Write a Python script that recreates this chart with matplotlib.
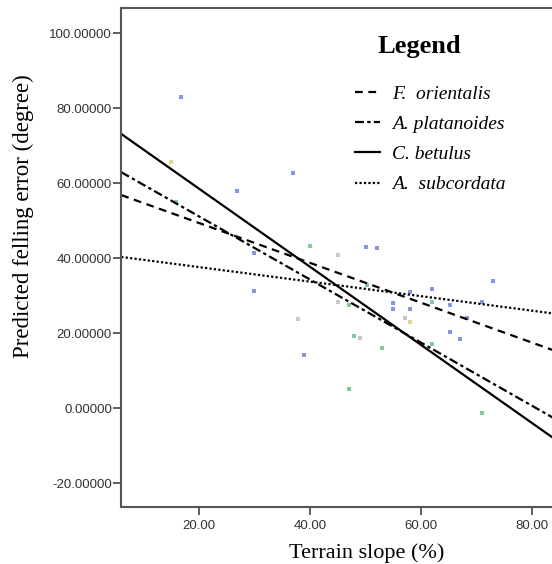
"""
Predicted felling error vs. terrain slope, one fitted line per species.
"""

import matplotlib
matplotlib.use("Agg")
import matplotlib.pyplot as plt

# ── Data ──────────────────────────────────────────────────────────────────────

SPECIES = ["F.  orientalis", "A. platanoides", "C. betulus", "A.  subcordata"]
LINE_X = [6.0, 85.0]
LINE_Y = {
    "F.  orientalis": [56.8, 14.8],
    "A. platanoides": [62.9, -3.6],
    "C. betulus": [73.1, -9.2],
    "A.  subcordata": [40.3, 25.0],
}

blue_x = [16.8, 26.8, 29.9, 29.9, 36.9, 50.1, 52.0, 38.9, 55.0, 55.0, 58.0,
          58.0, 62.0, 65.2, 65.2, 67.0, 68.3, 71.0, 73.0]
blue_y = [82.9, 57.9, 41.3, 31.2, 62.7, 43.0, 42.7, 14.1, 28.0, 26.4, 30.9,
          26.4, 31.7, 27.5, 20.3, 18.4, 24.0, 28.3, 33.9]
green_x = [15.9, 40.0, 47.0, 47.0, 47.9, 50.3, 53.0, 62.0, 62.0, 71.0]
green_y = [55.0, 43.2, 27.5, 5.1, 19.2, 32.8, 16.0, 28.3, 17.1, -1.3]
gray_x = [45.0, 37.8, 45.0, 49.0, 57.1]
gray_y = [40.8, 23.7, 28.3, 18.7, 24.0]
yellow_x = [15.0, 58.0]
yellow_y = [65.6, 22.9]

Y_TICKS = [-20, 0, 20, 40, 60, 80, 100]
X_TICKS = [20, 40, 60, 80]

# ── Styles ────────────────────────────────────────────────────────────────────

LINE_STYLE = {
    "F.  orientalis": (0, (3.5, 2.5)),
    "A. platanoides": (0, (4, 1.5, 1.5, 1.5)),
    "C. betulus": "-",
    "A.  subcordata": (0, (1, 1)),
}

SERIF = "Liberation Serif"
SANS = "Liberation Sans"
W, H = 552, 564

fig = plt.figure(figsize=(W / 100, H / 100), dpi=100)
ax = fig.add_axes([121 / W, 57 / H, 439 / W, 499 / H])

for x, y, c in [
    (blue_x, blue_y, "#8796e0"),
    (green_x, green_y, "#7fcb99"),
    (gray_x, gray_y, "#c8c8c8"),
    (yellow_x, yellow_y, "#e0d597"),
]:
    ax.scatter(x, y, s=5, marker="s", color=c, linewidths=0, zorder=1)

for sp in SPECIES:
    ax.plot(LINE_X, LINE_Y[sp], color="black", lw=1.6,
            linestyle=LINE_STYLE[sp], label=sp, zorder=2)

ax.set_xlim(5.95, 85.05)
ax.set_ylim(-26.4, 106.7)
ax.set_xticks(X_TICKS)
ax.set_yticks(Y_TICKS)
ax.set_xticklabels([f"{v:.2f}" for v in X_TICKS], fontfamily=SANS,
                   fontsize=9.5, color="#333333")
ax.set_yticklabels([f"{v:.5f}" for v in Y_TICKS], fontfamily=SANS,
                   fontsize=9.5, color="#333333")
ax.tick_params(direction="out", length=5.5, width=1.1, color="#333333", pad=1)
ax.tick_params(axis="x", pad=4)
ax.spines["right"].set_visible(False)
for s in ("left", "top", "bottom"):
    ax.spines[s].set_linewidth(1.5)
    ax.spines[s].set_color("#555555")

ax.set_xlabel("Terrain slope (%)", fontfamily=SERIF, fontsize=16)
ax.set_ylabel("Predicted felling error (degree)", fontfamily=SERIF,
              fontsize=16.5)
ax.xaxis.set_label_coords((367 - 121) / 439, -(553 - 507) / 499)
ax.yaxis.set_label_coords(-(121 - 23) / 439, (507 - 216) / 499)
ax.xaxis.label.set_va("center")
ax.yaxis.label.set_va("center")

fig.text(419 / W, 1 - 47 / H, "Legend", fontfamily=SERIF, fontweight="bold",
         fontsize=19, ha="center", va="center")

ax.legend(
    loc="upper left",
    bbox_to_anchor=(355 / W, 1 - 85 / H),
    bbox_transform=fig.transFigure,
    frameon=False,
    prop={"family": SERIF, "style": "italic", "size": 14},
    handlelength=1.3,
    handletextpad=0.6,
    labelspacing=0.65,
    borderpad=0,
    borderaxespad=0,
)

fig.savefig("out.png", dpi=100)
